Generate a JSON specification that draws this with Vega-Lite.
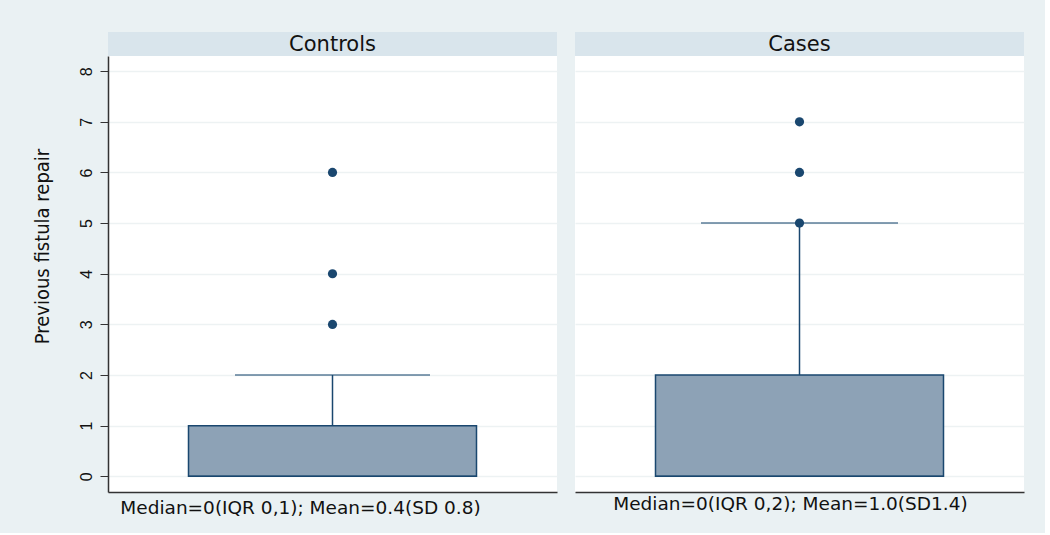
{
  "$schema": "https://vega.github.io/schema/vega-lite/v6.json",
  "background": "#EAF1F3",
  "padding": {"left": 32, "top": 32, "right": 21, "bottom": 16},
  "datasets": {
    "summary": [
      {"group": "Controls", "lower": 0, "q1": 0, "median": 0, "q3": 1, "upper": 2},
      {"group": "Cases", "lower": 0, "q1": 0, "median": 0, "q3": 2, "upper": 5}
    ],
    "outliers": [
      {"group": "Controls", "value": 3},
      {"group": "Controls", "value": 4},
      {"group": "Controls", "value": 6},
      {"group": "Cases", "value": 5},
      {"group": "Cases", "value": 6},
      {"group": "Cases", "value": 7}
    ]
  },
  "config": {
    "font": "DejaVu Sans",
    "view": {"stroke": null},
    "concat": {"spacing": 18}
  },
  "hconcat": [
    {
      "spacing": 0,
      "vconcat": [
        {
          "width": 449,
          "height": 24,
          "view": {"fill": "#D9E5EC", "stroke": null},
          "data": {"values": [{"group": "Controls"}]},
          "mark": {"type": "text", "fontSize": 21, "color": "#111111", "baseline": "middle", "dy": 1},
          "encoding": {"text": {"field": "group"}}
        },
        {
          "width": 449,
          "height": 436,
          "view": {"fill": "#FFFFFF", "stroke": null},
          "data": {"name": "summary"},
          "transform": [{"filter": "datum.group === 'Controls'"}],
          "encoding": {
            "x": {
              "field": "group",
              "type": "nominal",
              "scale": {"paddingInner": 0, "paddingOuter": 0.2795},
              "axis": {
                "title": "Median=0(IQR 0,1); Mean=0.4(SD 0.8)",
                "titleFont": "DejaVu Sans",
                "titleFontSize": 18.5,
                "titleFontWeight": "normal",
                "titleColor": "#111111",
                "titlePadding": 6,
                "titleX": 192,
                "labels": false,
                "ticks": false,
                "domain": true,
                "domainColor": "#333333",
                "domainWidth": 1.5
              }
            }
          },
          "layer": [
            {
              "mark": {"type": "bar", "fill": "#8DA2B6", "stroke": "#1A476F", "strokeWidth": 1.5, "width": {"band": 1}},
              "encoding": {
                "y": {
                  "field": "q1",
                  "type": "quantitative",
                  "scale": {"domain": [-0.31, 8.3], "nice": false, "zero": false},
                  "axis": {
                    "values": [0, 1, 2, 3, 4, 5, 6, 7, 8],
                    "title": "Previous fistula repair",
                    "titleFont": "DejaVu Sans Condensed",
                    "titleFontSize": 20,
                    "titleFontWeight": "normal",
                    "titleColor": "#111111",
                    "titlePadding": 26,
                    "titleY": 190,
                    "labelAngle": 270,
                    "labelFont": "Liberation Sans",
                    "labelFontSize": 16,
                    "labelColor": "#111111",
                    "labelPadding": 6,
                    "tickSize": 8,
                    "tickColor": "#333333",
                    "domainColor": "#333333",
                    "domainWidth": 1.5,
                    "gridColor": "#EDF2F3",
                    "gridWidth": 1.5,
                    "grid": true
                  }
                },
                "y2": {"field": "q3"}
              }
            },
            {
              "mark": {"type": "rule", "color": "#1A476F", "strokeWidth": 1.5},
              "encoding": {"y": {"field": "q3", "type": "quantitative"}, "y2": {"field": "upper"}}
            },
            {
              "mark": {"type": "tick", "color": "#1A476F", "size": 195, "thickness": 1.5},
              "encoding": {"y": {"field": "upper", "type": "quantitative"}}
            },
            {
              "mark": {"type": "tick", "color": "#1A476F", "size": 288, "thickness": 1.5},
              "encoding": {"y": {"field": "median", "type": "quantitative"}}
            },
            {
              "data": {"name": "outliers"},
              "transform": [{"filter": "datum.group === 'Controls'"}],
              "mark": {"type": "point", "filled": true, "opacity": 1, "color": "#1A476F", "size": 85},
              "encoding": {"y": {"field": "value", "type": "quantitative"}}
            }
          ]
        }
      ]
    },
    {
      "spacing": 0,
      "vconcat": [
        {
          "width": 449,
          "height": 24,
          "view": {"fill": "#D9E5EC", "stroke": null},
          "data": {"values": [{"group": "Cases"}]},
          "mark": {"type": "text", "fontSize": 21, "color": "#111111", "baseline": "middle", "dy": 1},
          "encoding": {"text": {"field": "group"}}
        },
        {
          "width": 449,
          "height": 436,
          "view": {"fill": "#FFFFFF", "stroke": null},
          "data": {"name": "summary"},
          "transform": [{"filter": "datum.group === 'Cases'"}],
          "encoding": {
            "x": {
              "field": "group",
              "type": "nominal",
              "scale": {"paddingInner": 0, "paddingOuter": 0.2795},
              "axis": {
                "title": "Median=0(IQR 0,2); Mean=1.0(SD1.4)",
                "titleFont": "DejaVu Sans",
                "titleFontSize": 18.5,
                "titleFontWeight": "normal",
                "titleColor": "#111111",
                "titlePadding": 2,
                "titleX": 215,
                "labels": false,
                "ticks": false,
                "domain": true,
                "domainColor": "#333333",
                "domainWidth": 1.5
              }
            }
          },
          "layer": [
            {
              "mark": {"type": "bar", "fill": "#8DA2B6", "stroke": "#1A476F", "strokeWidth": 1.5, "width": {"band": 1}},
              "encoding": {
                "y": {
                  "field": "q1",
                  "type": "quantitative",
                  "scale": {"domain": [-0.31, 8.3], "nice": false, "zero": false},
                  "axis": {
                    "values": [0, 1, 2, 3, 4, 5, 6, 7, 8],
                    "title": null,
                    "labels": false,
                    "ticks": false,
                    "domain": false,
                    "gridColor": "#EDF2F3",
                    "gridWidth": 1.5,
                    "grid": true
                  }
                },
                "y2": {"field": "q3"}
              }
            },
            {
              "mark": {"type": "rule", "color": "#1A476F", "strokeWidth": 1.5},
              "encoding": {"y": {"field": "q3", "type": "quantitative"}, "y2": {"field": "upper"}}
            },
            {
              "mark": {"type": "tick", "color": "#1A476F", "size": 197, "thickness": 1.5},
              "encoding": {"y": {"field": "upper", "type": "quantitative"}}
            },
            {
              "mark": {"type": "tick", "color": "#1A476F", "size": 288, "thickness": 1.5},
              "encoding": {"y": {"field": "median", "type": "quantitative"}}
            },
            {
              "data": {"name": "outliers"},
              "transform": [{"filter": "datum.group === 'Cases'"}],
              "mark": {"type": "point", "filled": true, "opacity": 1, "color": "#1A476F", "size": 85},
              "encoding": {"y": {"field": "value", "type": "quantitative"}}
            }
          ]
        }
      ]
    }
  ]
}
